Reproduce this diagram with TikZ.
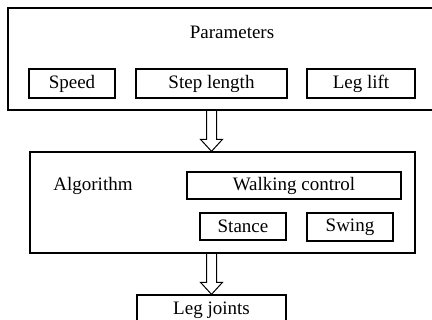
\documentclass[tikz,border=0pt]{standalone}
\usepackage{fontspec}
\setmainfont{Liberation Serif}
\usetikzlibrary{calc}

\newcommand{\hollowarrow}[2]{%
  \draw[line width=1pt] ($(#1)+(-5,0)$) -- ($(#2)+(-5,-12)$) -- ($(#2)+(-11,-12)$)
    -- (#2) -- ($(#2)+(11,-12)$) -- ($(#2)+(5,-12)$) -- ($(#1)+(5,0)$);}

\begin{document}
\begin{tikzpicture}[x=1pt,y=-1pt,line width=1.3pt,
    box/.style={draw,inner sep=0pt,font=\fontsize{19}{22}\selectfont},
    txt/.style={inner sep=0pt,font=\fontsize{19}{22}\selectfont}]
    \fill[white] (0,0) rectangle (432,320);
    \useasboundingbox (0,0) rectangle (432,320);
    % parameters
    \node[box,minimum width=462pt,minimum height=102pt] (params) at (239,59) {};
    \node[txt] (paramtitle) at (232,32) {Parameters};
    \node[box,minimum width=86pt,minimum height=29pt] (speed) at (72,83.5) {Speed};
    \node[box,minimum width=151pt,minimum height=29pt] (step) at (211.5,83.5) {Step length};
    \node[box,minimum width=108pt,minimum height=29pt] (lift) at (361,83.5) {Leg lift};
    % algorithm
    \node[box,minimum width=385pt,minimum height=101pt] (algo) at (222.5,202.5) {};
    \node[txt] (algotitle) at (93,186) {Algorithm};
    \node[box,minimum width=214pt,minimum height=27pt] (walk) at (294,185.5) {Walking control};
    \node[box,minimum width=86pt,minimum height=27pt] (stance) at (243,226.5) {Stance};
    \node[box,minimum width=86pt,minimum height=28pt] (swing) at (350,227) {Swing};
    % output
    \node[box,minimum width=149pt,minimum height=30pt] (joints) at (211.5,310) {Leg joints};
    \hollowarrow{step.south |- params.south}{step.south |- algo.north}
    \hollowarrow{joints.north |- algo.south}{joints.north}
\end{tikzpicture}
\end{document}
